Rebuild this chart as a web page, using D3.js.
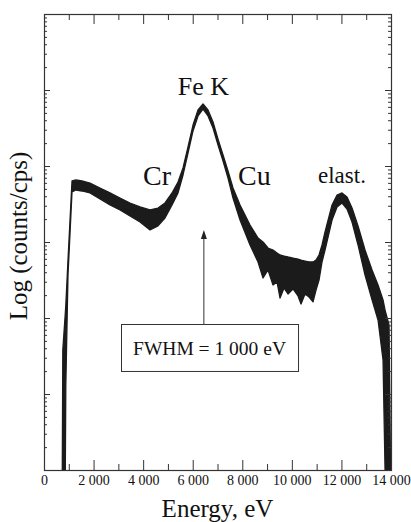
<!DOCTYPE html>
<html>
<head>
<meta charset="utf-8">
<script src="https://cdn.jsdelivr.net/npm/d3@7"></script>
<style>
  body { margin: 0; background: #fff; }
</style>
</head>
<body>
<div id="chart"></div>
<script>
// spectrum: energy (eV) with the upper and lower edge of the noisy band (counts)
var energy = [738, 759, 860, 880, 968, 1130, 1291, 1533, 1856, 2260, 2663, 3067, 3470, 3874, 4277,
  4600, 4882, 5165, 5407, 5609, 5810, 6012, 6214, 6416, 6617, 6819, 7021, 7223, 7424, 7626,
  7909, 8312, 8635, 8837, 9038, 9240, 9402, 9523, 9684, 9845, 10047, 10249, 10370, 10531, 10693,
  10854, 10975, 11096, 11217, 11338, 11621, 11823, 12024, 12226, 12428,
  12670, 12952, 13235, 13477, 13679, 13760, 13921, 13981];
var upper = [1, 38, 116, 148, 579, 6350, 6550, 6350, 5970, 5140, 4420, 3790, 3260, 2890, 2640,
  2800, 3260, 4420, 6150, 9420, 17800, 34600, 54600, 65500, 54600, 37900, 22600, 13960, 8590, 5140,
  3070, 1675, 1129, 1000, 834, 785, 717, 675, 654, 635, 615, 597, 579, 562, 546,
  546, 579, 675, 914, 1355, 3070, 4150, 4420, 3910, 2800,
  1625, 785, 428, 272, 173, 127, 81, 1];
var lower = [1, 1, 1, 13, 368, 4550, 4830, 4690, 4420, 3680, 3070, 2640, 2200, 1830, 1440,
  1630, 2070, 3070, 4420, 7620, 14800, 28900, 45500, 56200, 45500, 31600, 18900, 11640, 6950, 3790,
  1945, 914, 546, 336, 428, 272, 298, 183, 248, 207, 241, 195, 153, 207, 189,
  163, 233, 316, 546, 785, 1945, 2890, 3260, 2720, 1830,
  914, 368, 173, 94, 28, 1, 1, 1];

// x ticks
var xMajor = [0, 2000, 4000, 6000, 8000, 10000, 12000, 14000];
var xMajorLabels = ["0", "2 000", "4 000", "6 000", "8 000", "10 000", "12 000", "14 000"];
var xMinor = [1000, 3000, 5000, 7000, 9000, 11000, 13000];

// peak labels
var peakNames = ["Cr", "Fe K", "Cu", "elast."];
var peakEnergy = [3995, 5400, 7828, 11056];
var peakCounts = [5620, 86000, 5620, 5970];

var serif = "'Liberation Serif', 'Times New Roman', Tinos, 'Noto Serif', 'DejaVu Serif', FreeSerif, serif";

var svgWidth = 411;
var svgHeight = 522;
var margin = { top: 14, right: 20, bottom: 52, left: 44 };
var chartWidth = svgWidth - margin.left - margin.right;
var chartHeight = svgHeight - margin.top - margin.bottom;

var svg = d3.select("#chart").append("svg")
  .attr("width", svgWidth)
  .attr("height", svgHeight)
  .attr("font-family", serif);

var chartGroup = svg.append("g")
  .attr("transform", `translate(${margin.left}, ${margin.top})`);

var xScale = d3.scaleLinear().domain([0, 14000]).range([0, chartWidth]);
var yScale = d3.scaleLog().domain([1, 1e6]).range([chartHeight, 0]);

// spectrum band
var points = energy.map((e, i) => ({ e: e, hi: upper[i], lo: lower[i] }));
var band = d3.area()
  .x(d => xScale(d.e))
  .y0(d => yScale(d.lo))
  .y1(d => yScale(d.hi));

chartGroup.append("path")
  .datum(points)
  .attr("d", band)
  .attr("fill", "#1b1b1b")
  .attr("stroke", "#1b1b1b")
  .attr("stroke-width", 1.3)
  .attr("stroke-linejoin", "round");

// y ticks: decades long, 2..9 short, on both sides
var yAll = yScale.ticks();
var yMajor = yAll.filter(v => Math.abs(Math.log10(v) - Math.round(Math.log10(v))) < 1e-9);
var yMinor = yAll.filter(v => yMajor.indexOf(v) < 0);

function tickAxis(axis, g) {
  g.call(axis);
  g.select(".domain").remove();
  g.attr("font-family", serif);
  g.selectAll(".tick line").attr("stroke", "#333");
}

tickAxis(d3.axisLeft(yScale).tickValues(yMajor).tickSize(-6).tickFormat(""), chartGroup.append("g"));
tickAxis(d3.axisLeft(yScale).tickValues(yMinor).tickSize(-3).tickFormat(""), chartGroup.append("g"));
tickAxis(d3.axisRight(yScale).tickValues(yMajor).tickSize(-6).tickFormat(""),
  chartGroup.append("g").attr("transform", `translate(${chartWidth}, 0)`));
tickAxis(d3.axisRight(yScale).tickValues(yMinor).tickSize(-3).tickFormat(""),
  chartGroup.append("g").attr("transform", `translate(${chartWidth}, 0)`));

// x ticks
var xAxisG = chartGroup.append("g").attr("transform", `translate(0, ${chartHeight})`);
tickAxis(d3.axisBottom(xScale).tickValues(xMajor).tickSize(-10).tickPadding(5)
  .tickFormat((d, i) => xMajorLabels[i]), xAxisG);
xAxisG.attr("font-size", 14);
xAxisG.selectAll("text").attr("fill", "#111");
tickAxis(d3.axisBottom(xScale).tickValues(xMinor).tickSize(-6).tickFormat(""),
  chartGroup.append("g").attr("transform", `translate(0, ${chartHeight})`));
tickAxis(d3.axisTop(xScale).tickValues(xMajor).tickSize(-10).tickFormat(""), chartGroup.append("g"));
tickAxis(d3.axisTop(xScale).tickValues(xMinor).tickSize(-6).tickFormat(""), chartGroup.append("g"));

// frame
chartGroup.append("rect")
  .attr("x", 0.5).attr("y", 0.5)
  .attr("width", chartWidth).attr("height", chartHeight)
  .attr("fill", "none")
  .attr("stroke", "#333")
  .attr("stroke-width", 1.2);

// peak labels
var peakSize = [28, 26, 28, 23];
chartGroup.selectAll(".peak")
  .data(peakNames)
  .enter()
  .append("text")
  .attr("class", "peak")
  .attr("x", (d, i) => xScale(peakEnergy[i]))
  .attr("y", (d, i) => yScale(peakCounts[i]))
  .attr("font-size", (d, i) => peakSize[i])
  .attr("fill", "#111")
  .text(d => d);

// FWHM note with arrow
var noteBox = { e0: 3107, e1: 10249, top: 83, bottom: 20 };
var arrowE = 6450;
var arrowTip = 1440;

chartGroup.append("line")
  .attr("x1", xScale(arrowE)).attr("x2", xScale(arrowE))
  .attr("y1", yScale(noteBox.top)).attr("y2", yScale(arrowTip) + 7)
  .attr("stroke", "#333").attr("stroke-width", 1);

chartGroup.append("path")
  .attr("d", `M${xScale(arrowE)},${yScale(arrowTip)} l-3,9 l6,0 z`)
  .attr("fill", "#222");

chartGroup.append("rect")
  .attr("x", Math.round(xScale(noteBox.e0)) + 0.5)
  .attr("y", Math.round(yScale(noteBox.top)) + 0.5)
  .attr("width", xScale(noteBox.e1) - xScale(noteBox.e0))
  .attr("height", yScale(noteBox.bottom) - yScale(noteBox.top))
  .attr("fill", "#fff")
  .attr("stroke", "#333")
  .attr("stroke-width", 1);

chartGroup.append("text")
  .attr("x", (xScale(noteBox.e0) + xScale(noteBox.e1)) / 2)
  .attr("y", yScale(noteBox.bottom) - 16)
  .attr("text-anchor", "middle")
  .attr("font-size", 19.5)
  .attr("fill", "#111")
  .text("FWHM = 1 000 eV");

// axis titles
svg.append("text")
  .attr("x", margin.left + xScale(7000))
  .attr("y", 517)
  .attr("text-anchor", "middle")
  .attr("font-size", 25)
  .attr("fill", "#111")
  .text("Energy, eV");

svg.append("text")
  .attr("transform", "translate(27, 236) rotate(-90)")
  .attr("text-anchor", "middle")
  .attr("font-size", 25)
  .attr("fill", "#111")
  .text("Log (counts/cps)");
</script>
</body>
</html>
